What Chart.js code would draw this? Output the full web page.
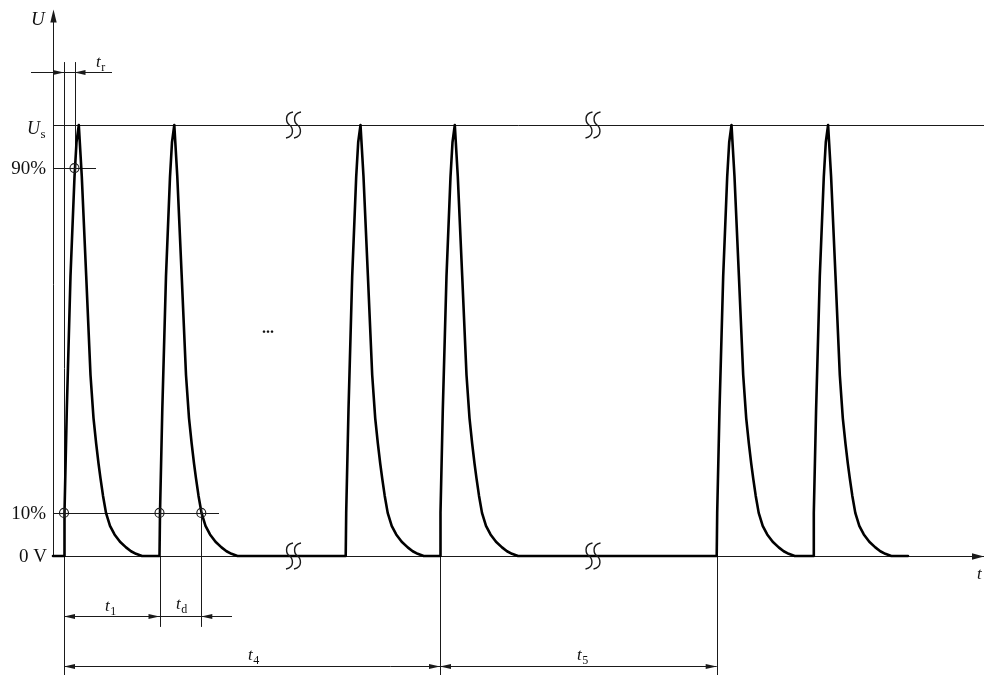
<!DOCTYPE html>
<html>
<head>
<meta charset="utf-8">
<script src="https://cdn.jsdelivr.net/npm/chart.js@4/dist/chart.umd.min.js"></script>
<style>
  html, body { margin: 0; padding: 0; background: #fff; }
  #wrap { width: 984px; height: 675px; }
</style>
</head>
<body>
<div id="wrap"><canvas id="pulseChart" width="984" height="675"></canvas></div>
<script>
// time axis is in arbitrary drawing units, voltage as a fraction of Us
const pulseStarts = [64, 159.5, 345.7, 440, 716.7, 813.3];
const pulseOffsets = [0, 0.5, 2.8, 6.5, 10.5, 12.5, 14.8, 17.8, 22.2, 26.5, 29.5, 32.2, 34.5, 36.5, 39, 42, 46, 50.5, 56, 62, 67, 72, 78];
const pulseLevels = [0, 0.1, 0.34, 0.65, 0.88, 0.96, 1, 0.88, 0.65, 0.42, 0.32, 0.26, 0.215, 0.18, 0.14, 0.1, 0.07, 0.05, 0.033, 0.02, 0.011, 0.005, 0];
const traceStart = 53;
const traceEnd = 908;

const levelValues = [1, 0.9, 0.1, 0];
const levelLabels = ["U", "90%", "10%", "0 V"];

// measured points on the first two pulses
const riseStart = 64;
const rise90 = 74.5;
const secondStart = 159.5;
const fall10 = 201.3;

const waveform = [{ x: traceStart, y: 0 }];
pulseStarts.forEach((t0) => {
  pulseOffsets.forEach((dt, i) => waveform.push({ x: t0 + dt, y: pulseLevels[i] }));
});
waveform.push({ x: traceEnd, y: 0 });

const crisp = (p) => Math.round(p) + 0.5;

function drawLine(ctx, x1, y1, x2, y2) {
  ctx.beginPath();
  ctx.moveTo(x1, y1);
  ctx.lineTo(x2, y2);
  ctx.stroke();
}

function drawArrow(ctx, tx, ty, dir, len = 11, half = 2.6) {
  const d = dir === "left" ? 1 : dir === "right" ? -1 : 0;
  ctx.beginPath();
  if (dir === "up" || dir === "down") {
    const s = dir === "up" ? 1 : -1;
    ctx.moveTo(tx, ty);
    ctx.lineTo(tx - half, ty + s * len);
    ctx.lineTo(tx + half, ty + s * len);
  } else {
    ctx.moveTo(tx, ty);
    ctx.lineTo(tx + d * len, ty - half);
    ctx.lineTo(tx + d * len, ty + half);
  }
  ctx.closePath();
  ctx.fill();
}

function drawSub(ctx, main, sub, x, y, size, italicMain = true) {
  ctx.font = `${italicMain ? "italic " : ""}${size}px "Liberation Serif", serif`;
  ctx.textAlign = "left";
  ctx.textBaseline = "alphabetic";
  ctx.fillText(main, x, y);
  const w = ctx.measureText(main).width;
  ctx.font = `${Math.round(size * 0.7)}px "Liberation Serif", serif`;
  ctx.fillText(sub, x + w + 0.5, y + size * 0.22);
}

function drawBreak(ctx, cx, cy) {
  [-4, 4].forEach((off) => {
    const x = cx + off;
    ctx.beginPath();
    ctx.moveTo(x + 3.5, cy - 13);
    ctx.bezierCurveTo(x - 6, cy - 11, x - 3, cy - 2, x, cy);
    ctx.bezierCurveTo(x + 3, cy + 2, x + 6, cy + 11, x - 3.5, cy + 13);
    ctx.stroke();
  });
}

const diagramPlugin = {
  id: "diagram",
  beforeDatasetsDraw(chart) {
    const { ctx, scales: { x, y } } = chart;
    const px = (t) => x.getPixelForValue(t);
    const py = (u) => y.getPixelForValue(u);
    ctx.save();
    ctx.strokeStyle = "#1a1a1a";
    ctx.fillStyle = "#1a1a1a";
    ctx.lineWidth = 1;

    const yAxisX = crisp(px(traceStart));
    const zeroY = crisp(py(0));
    // axes
    drawLine(ctx, yAxisX, zeroY, yAxisX, py(1.262));
    drawArrow(ctx, yAxisX, py(1.268), "up", 13, 3.2);
    drawLine(ctx, yAxisX, zeroY, px(975), zeroY);
    drawArrow(ctx, px(984), zeroY, "right", 12, 3.2);

    // level lines
    const levelEnds = [984, 96, 219, 984];
    levelValues.forEach((v, i) => drawLine(ctx, yAxisX, crisp(py(v)), px(levelEnds[i]), crisp(py(v))));

    // extension lines
    const topExt = py(1.146);
    const dimY1 = py(-0.139);
    const dimY2 = py(-0.255);
    drawLine(ctx, crisp(px(riseStart)), topExt, crisp(px(riseStart)), chart.height);
    drawLine(ctx, crisp(px(rise90)), topExt, crisp(px(rise90)), py(0.9));
    drawLine(ctx, crisp(px(secondStart)), zeroY, crisp(px(secondStart)), dimY1 + 11);
    drawLine(ctx, crisp(px(fall10)), py(0.1), crisp(px(fall10)), dimY1 + 11);
    drawLine(ctx, crisp(px(pulseStarts[3])), zeroY, crisp(px(pulseStarts[3])), chart.height);
    drawLine(ctx, crisp(px(pulseStarts[4])), zeroY, crisp(px(pulseStarts[4])), chart.height);

    // tr dimension
    const trY = crisp(py(1.123));
    drawLine(ctx, px(31), trY, px(112), trY);
    drawArrow(ctx, px(riseStart), trY, "right");
    drawArrow(ctx, px(rise90), trY, "left");

    // t1 / td dimensions
    const d1 = crisp(dimY1);
    drawLine(ctx, px(riseStart), d1, px(232), d1);
    drawArrow(ctx, px(riseStart), d1, "left");
    drawArrow(ctx, px(secondStart), d1, "right");
    drawArrow(ctx, px(fall10), d1, "left");

    // t4 / t5 dimensions
    const d2 = crisp(dimY2);
    drawLine(ctx, px(riseStart), d2, px(pulseStarts[4]), d2);
    drawArrow(ctx, px(riseStart), d2, "left");
    drawArrow(ctx, px(pulseStarts[3]), d2, "right");
    drawArrow(ctx, px(pulseStarts[3]), d2, "left");
    drawArrow(ctx, px(pulseStarts[4]), d2, "right");
    ctx.restore();
  },
  afterDatasetsDraw(chart) {
    const { ctx, scales: { x, y } } = chart;
    const px = (t) => x.getPixelForValue(t);
    const py = (u) => y.getPixelForValue(u);
    ctx.save();
    ctx.strokeStyle = "#1a1a1a";
    ctx.fillStyle = "#1a1a1a";
    ctx.lineWidth = 1.1;

    // measurement circles
    [[rise90, 0.9], [riseStart, 0.1], [secondStart, 0.1], [fall10, 0.1]].forEach(([t, u]) => {
      ctx.beginPath();
      ctx.arc(px(t), py(u), 4.5, 0, Math.PI * 2);
      ctx.stroke();
      drawLine(ctx, px(t) - 4.5, crisp(py(u)), px(t) + 4.5, crisp(py(u)));
      drawLine(ctx, crisp(px(t)), py(u) - 4.5, crisp(px(t)), py(u) + 4.5);
    });

    // axis breaks
    ctx.lineWidth = 1.4;
    [293.5, 593].forEach((t) => {
      drawBreak(ctx, px(t), py(1));
      drawBreak(ctx, px(t), py(0));
    });

    // level labels
    ctx.fillStyle = "#111";
    ctx.textAlign = "right";
    ctx.textBaseline = "middle";
    ctx.font = '19px "Liberation Serif", serif';
    ctx.fillText(levelLabels[1], 46, py(0.9) + 1);
    ctx.fillText(levelLabels[2], 46, py(0.1) + 1);
    ctx.fillText(levelLabels[3], 47, py(0) + 1);
    drawSub(ctx, levelLabels[0], "s", 27, py(1) + 9, 18);

    ctx.font = 'italic 19px "Liberation Serif", serif';
    ctx.textAlign = "left";
    ctx.textBaseline = "alphabetic";
    ctx.fillText("U", 31, 25);
    ctx.font = 'italic 17px "Liberation Serif", serif';
    ctx.fillText("t", 977, 579);

    drawSub(ctx, "t", "r", 96, 67, 17);
    drawSub(ctx, "t", "1", 105, 611, 17);
    drawSub(ctx, "t", "d", 176, 609, 17);
    drawSub(ctx, "t", "4", 248, 660, 17);
    drawSub(ctx, "t", "5", 577, 660, 17);

    ctx.font = 'bold 16px "Liberation Serif", serif';
    ctx.fillText("...", 262, 333);
    ctx.restore();
  },
};

new Chart(document.getElementById("pulseChart"), {
  type: "line",
  data: {
    datasets: [{
      label: "U",
      data: waveform,
      borderColor: "#000",
      borderWidth: 2.6,
      borderJoinStyle: "round",
      borderCapStyle: "round",
      pointRadius: 0,
      tension: 0,
      fill: false,
    }],
  },
  options: {
    responsive: false,
    animation: false,
    devicePixelRatio: 1,
    layout: { padding: 0 },
    plugins: { legend: { display: false }, tooltip: { enabled: false } },
    scales: {
      x: { type: "linear", min: 0, max: 984, display: false },
      y: { type: "linear", min: -0.2761, max: 1.29, display: false },
    },
  },
  plugins: [diagramPlugin],
});
</script>
</body>
</html>
